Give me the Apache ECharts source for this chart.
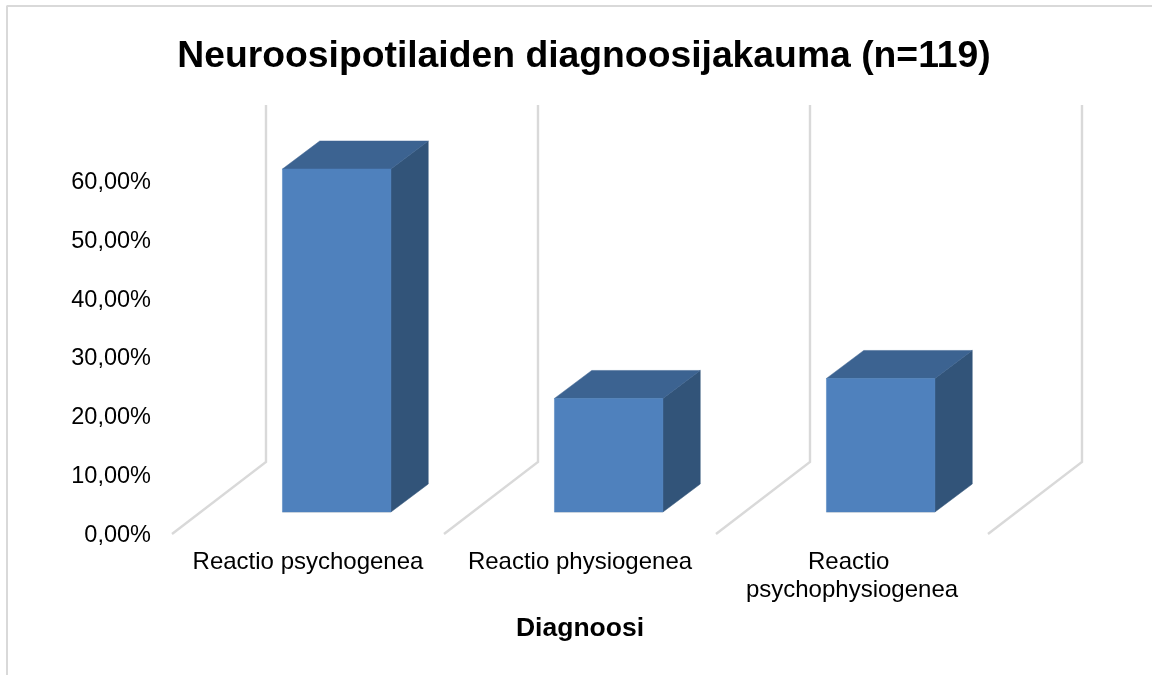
<!DOCTYPE html>
<html>
<head>
<meta charset="utf-8">
<style>html,body{margin:0;padding:0;background:#fff}#c{width:1152px;height:675px}</style>
<script src="https://cdn.jsdelivr.net/npm/echarts@6/dist/echarts.min.js"></script>
</head>
<body>
<div id="c"></div>
<script>
const categories = ['Reactio psychogenea', 'Reactio physiogenea', 'Reactio psychophysiogenea'];
const shares = [58.3, 19.3, 22.7];
const wallTopValue = 60.7;

const FONT = '"Liberation Sans", Arial, sans-serif';
const floorDepth = [94, -72];      // floor run from the front edge to the back wall
const barFront = [28.7, -22];      // bar front face offset within the floor depth
const barDepth = [37.3, -28];      // bar depth vector
const barWidthPx = 108.5;

function renderBar(params, api) {
  const i = api.value(0);
  const top = api.coord([i, api.value(1)]);
  const base = api.coord([i, 0]);
  const x0 = top[0] + barFront[0] - barWidthPx / 2;
  const x1 = x0 + barWidthPx;
  const yt = top[1] + barFront[1];
  const yb = base[1] + barFront[1];
  const dx = barDepth[0], dy = barDepth[1];
  const poly = (points, fill) => ({type: 'polygon', shape: {points}, style: {fill, stroke: fill, lineWidth: 0.5}});
  return {type: 'group', children: [
    poly([[x1, yt], [x1 + dx, yt + dy], [x1 + dx, yb + dy], [x1, yb]], '#325479'),
    poly([[x0, yt], [x0 + dx, yt + dy], [x1 + dx, yt + dy], [x1, yt]], '#3c6391'),
    poly([[x0, yt], [x1, yt], [x1, yb], [x0, yb]], '#4f81bd'),
    {type: 'line', shape: {x1: x0, y1: yb + 0.5, x2: x1, y2: yb + 0.5}, style: {stroke: '#c9d3de', lineWidth: 1}}
  ]};
}

function renderWall(params, api) {
  const band = api.size([1, 0])[0];
  const i = api.value(0);
  const x = api.coord([i, 0])[0] - band / 2;
  const y0 = api.coord([i, 0])[1];
  const yTop = api.coord([i, wallTopValue])[1];
  const style = {stroke: '#d9d9d9', lineWidth: 2.4, fill: 'none'};
  return {type: 'polyline', shape: {points: [
    [x, y0],
    [x + floorDepth[0], y0 + floorDepth[1]],
    [x + floorDepth[0], yTop + floorDepth[1]]
  ]}, style};
}

const chart = echarts.init(document.getElementById('c'), null, {renderer: 'canvas'});
chart.setOption({
  animation: false,
  backgroundColor: '#fff',
  title: {
    text: 'Neuroosipotilaiden diagnoosijakauma (n=119)',
    left: 579, top: 33, textAlign: 'center',
    textStyle: {fontFamily: FONT, fontSize: 37.3, fontWeight: 'bold', color: '#000'}
  },
  graphic: [
    {type: 'line', shape: {x1: 6.5, y1: 6, x2: 1152, y2: 6}, style: {stroke: '#d9d9d9', lineWidth: 2}},
    {type: 'line', shape: {x1: 7, y1: 6, x2: 7, y2: 675}, style: {stroke: '#d9d9d9', lineWidth: 2}}
  ],
  grid: {left: 172, right: 164, top: 181, bottom: 141},
  xAxis: {
    type: 'category',
    data: categories,
    axisLine: {show: false},
    axisTick: {show: false},
    axisLabel: {
      fontFamily: FONT, fontSize: 24, color: '#000', margin: 14, lineHeight: 28,
      width: 290, overflow: 'break', interval: 0, verticalAlign: 'top'
    },
    name: 'Diagnoosi',
    nameLocation: 'middle',
    nameGap: 81,
    nameTextStyle: {fontFamily: FONT, fontSize: 26.5, fontWeight: 'bold', color: '#000'}
  },
  yAxis: {
    type: 'value',
    min: 0, max: 60, interval: 10,
    axisLine: {show: false},
    axisTick: {show: false},
    splitLine: {show: false},
    axisLabel: {
      margin: 21,
      formatter: v => '{v|' + v.toFixed(2).replace('.', ',') + '%}',
      rich: {v: {fontFamily: FONT, fontSize: 23.5, color: '#000', padding: [3, 0, 0, 0]}}
    }
  },
  series: [
    {
      type: 'custom', clip: false, silent: true, z: 1,
      encode: {x: 0},
      data: [0, 1, 2, 3].map(i => [i]),
      renderItem: renderWall
    },
    {
      type: 'custom', clip: false, z: 2,
      encode: {x: 0, y: 1},
      data: shares.map((v, i) => [i, v]),
      renderItem: renderBar
    }
  ]
});
</script>
</body>
</html>
